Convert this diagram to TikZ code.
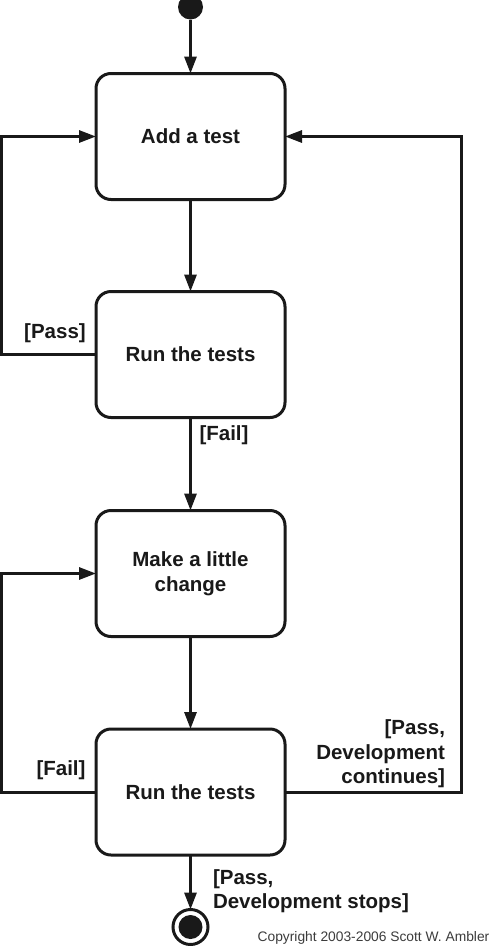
\documentclass[tikz,border=0pt]{standalone}
\usepackage{fontspec}
\setmainfont{Liberation Sans}
\usetikzlibrary{arrows.meta}
\definecolor{ink}{RGB}{25,25,25}
\definecolor{copy}{RGB}{60,60,60}
\begin{document}
\begin{tikzpicture}[x=1pt,y=-1pt,
  every node/.style={inner sep=0pt,outer sep=0pt},
  act/.style={draw=ink,line width=3pt,rounded corners=15pt,minimum width=189pt,minimum height=126pt,
    font=\fontsize{20.5}{25}\selectfont\bfseries,text=ink,align=center,fill=white},
  lbl/.style={font=\fontsize{20.5}{24.5}\selectfont\bfseries,text=ink},
  flow/.style={draw=ink,line width=3pt,-{Triangle[length=17pt,width=12pt]}}]
\useasboundingbox (0,0) rectangle (492,946);
\fill[white] (0,0) rectangle (492,946);
% nodes
\node[circle,fill=ink,minimum size=25pt] (start) at (190.5,7) {};
\node[act] (add) at (190.5,136.5) {Add a test};
\node[act] (run1) at (190.5,354.5) {Run the tests};
\node[act] (change) at (190.5,573.5) {Make a little\\change};
\node[act] (run2) at (190.5,792) {Run the tests};
\node[circle,draw=ink,line width=3pt,minimum size=35pt] (stop) at (190.5,927) {};
\node[circle,fill=ink,minimum size=24pt] (stopin) at (190.5,927) {};
% corner coordinates
\coordinate (l1) at (1.5,354.5);
\coordinate (l2) at (1.5,792);
\coordinate (r1) at (461,792);
% connectors
\draw[flow] (start) -- (add);
\draw[flow] (add) -- (run1);
\draw[flow] (run1) -- (change);
\draw[flow] (change) -- (run2);
\draw[flow] (run2) -- (stop);
\draw[flow] (run1.west) -- (l1) |- (add.west);
\draw[flow] (run2.west) -- (l2) |- (change.west);
\draw[flow] (run2.east) -- (r1) |- (add.east);
% labels
\node[lbl] (lpass) at (55,333) {[Pass]};
\node[lbl] (lfail1) at (224,435) {[Fail]};
\node[lbl] (lfail2) at (61,770) {[Fail]};
\node[lbl,align=right,anchor=east] (lcont) at (445,754) {[Pass,\\Development\\continues]};
\node[lbl,align=left,anchor=west] (lstops) at (213,891) {[Pass,\\Development stops]};
\node[font=\fontsize{13.8}{16}\selectfont,text=copy] (copyr) at (373.5,938) {Copyright 2003-2006 Scott W. Ambler};
\end{tikzpicture}
\end{document}
